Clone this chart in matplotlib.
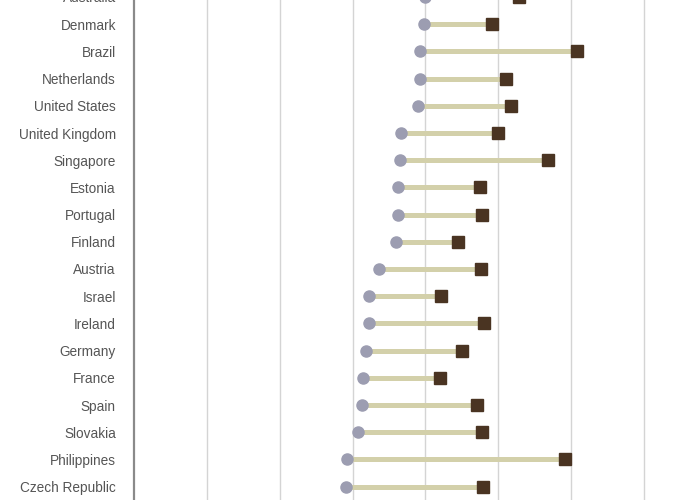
import matplotlib
matplotlib.use('Agg')
from matplotlib import pyplot as plt

countries = ['Australia', 'Denmark', 'Brazil', 'Netherlands', 'United States',
             'United Kingdom', 'Singapore', 'Estonia', 'Portugal', 'Finland',
             'Austria', 'Israel', 'Ireland', 'Germany', 'France', 'Spain',
             'Slovakia', 'Philippines', 'Czech Republic']
start = [3.99, 3.98, 3.92, 3.92, 3.90, 3.66, 3.65, 3.62, 3.62, 3.59,
         3.36, 3.22, 3.22, 3.18, 3.14, 3.13, 3.07, 2.92, 2.91]
end = [5.29, 4.91, 6.08, 5.10, 5.17, 4.99, 5.68, 4.75, 4.77, 4.44,
       4.76, 4.21, 4.81, 4.50, 4.20, 4.71, 4.77, 5.91, 4.79]

plt.rcParams['font.family'] = ['Liberation Sans', 'DejaVu Sans']

fig = plt.figure(figsize=(7, 5), dpi=100)
# the chart is cropped at the top, bottom and right
ax = fig.add_axes([0.1914, -0.0548, 0.812, 1.1424])

pos = list(range(len(countries)))
ax.hlines(pos, start, end, color='#d3d0aa', linewidth=3.6, zorder=2)
ax.plot(start, pos, 'o', color='#9c9db1', markersize=8, zorder=3)
ax.plot(end, pos, 's', color='#4a3422', markersize=8.5, zorder=3)

ax.set_xlim(0, 7.8)
ax.set_ylim(19.5, -1.5)
ax.set_xticks(range(1, 8))
ax.set_xticklabels([])
ax.grid(axis='x', color='#d4d4d4', linewidth=1)
ax.set_axisbelow(True)

ax.set_yticks(pos)
ax.set_yticklabels(countries, fontsize=9.8, color='#555555')
ax.tick_params(axis='both', length=0)
ax.tick_params(axis='y', pad=13)

for s in ['top', 'right', 'bottom']:
    ax.spines[s].set_visible(False)
ax.spines['left'].set_color('#8a8a8a')
ax.spines['left'].set_linewidth(1.6)

plt.savefig('out.png', dpi=100)
